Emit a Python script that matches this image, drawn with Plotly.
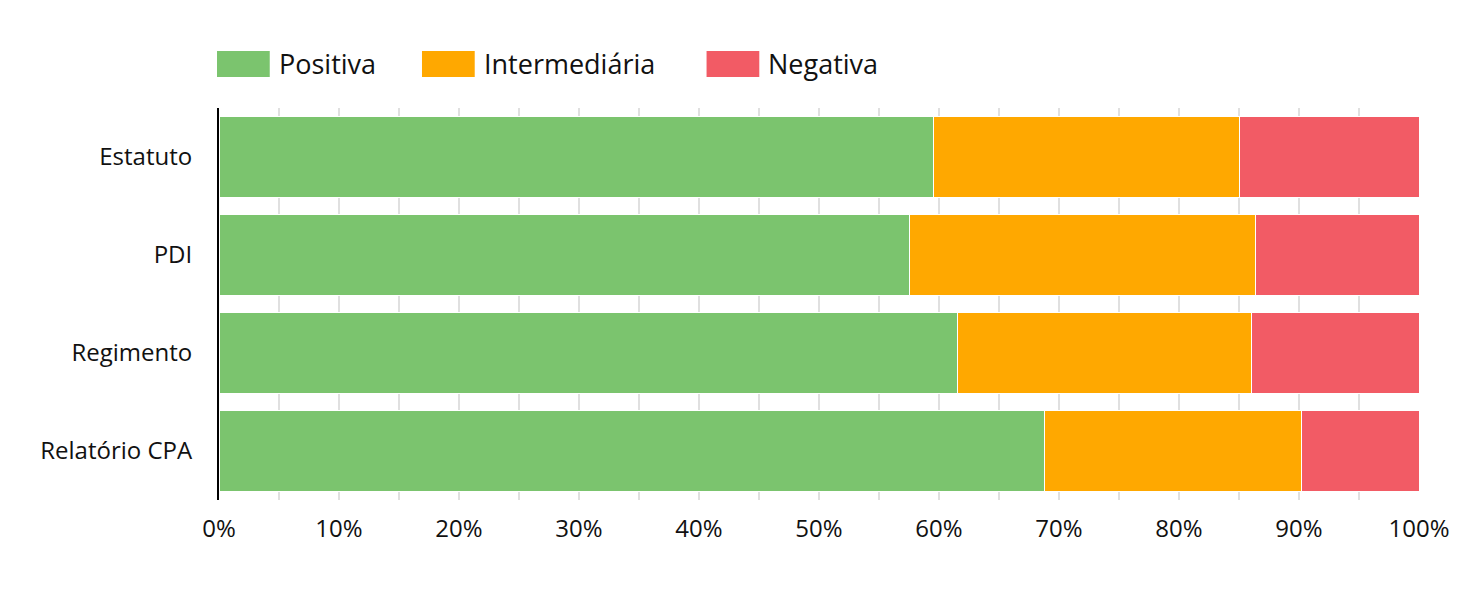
import plotly.graph_objects as go

categories = ["Estatuto", "PDI", "Regimento", "Relatório CPA"]
series_names = ["Positiva", "Intermediária", "Negativa"]
positiva = [59.5, 57.5, 61.5, 68.8]
intermediaria = [25.5, 28.9, 24.5, 21.4]
negativa = [15.0, 13.6, 14.0, 9.8]
colors = ["#7bc46e", "#ffa800", "#f25b65"]
tick_vals = [0, 10, 20, 30, 40, 50, 60, 70, 80, 90, 100]
tick_text = [f"{v}%" for v in tick_vals]

FONT = "Open Sans"
OFF = 8  # page body margin
W, H = 1470 - 2 * OFF, 597 - 2 * OFF
L, T = 219 - OFF, 108 - OFF
R = W - (1425 - OFF)
B = H - (500 - OFF)
PW, PH = W - L - R, H - T - B

def px_x(p):  # page pixel -> paper
    return (p - OFF - L) / PW

def px_y(p):
    return (H - B - (p - OFF)) / PH

fig = go.Figure()
for name, vals, col in zip(series_names, [positiva, intermediaria, negativa], colors):
    fig.add_trace(go.Bar(
        y=categories, x=vals, name=name, orientation="h",
        marker=dict(color=col, line=dict(color="white", width=1)),
        showlegend=False,
    ))

shapes = []
annotations = []
legend_x = [217, 423, 709]
for name, col, lx in zip(series_names, colors, legend_x):
    shapes.append(dict(type="rect", xref="paper", yref="paper",
                       x0=px_x(lx), x1=px_x(lx + 53), y0=px_y(77), y1=px_y(51),
                       fillcolor=col, line=dict(width=0)))
    annotations.append(dict(xref="paper", yref="paper", x=px_x(lx + 60), y=px_y(64),
                            text=name, showarrow=False, xanchor="left", yanchor="middle",
                            font=dict(family=FONT, size=27, color="#111111")))

fig.update_layout(
    width=W, height=H,
    margin=dict(l=L, r=R, t=T, b=B),
    barmode="stack", bargap=0.18,
    paper_bgcolor="white", plot_bgcolor="white",
    font=dict(family=FONT, size=24, color="#111111"),
    shapes=shapes, annotations=annotations,
    xaxis=dict(range=[0, 100], tickvals=tick_vals, ticktext=tick_text,
               showgrid=True, gridcolor="#e0e0e0", gridwidth=2,
               minor=dict(dtick=5, showgrid=True, gridcolor="#e0e0e0", gridwidth=2),
               zeroline=False, showline=False, ticks="", ticklabelstandoff=12,
               tickfont=dict(size=24)),
    yaxis=dict(categoryorder="array", categoryarray=categories, autorange="reversed",
               showline=True, linecolor="black", linewidth=2, showgrid=False,
               ticks="", ticklabelstandoff=20, tickfont=dict(size=24)),
)

fig.write_html("out.html")
